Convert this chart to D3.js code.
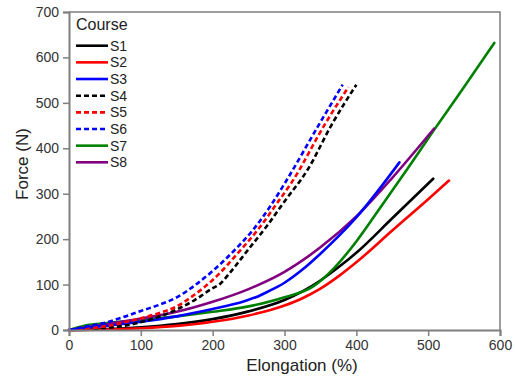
<!DOCTYPE html>
<html>
<head>
<meta charset="utf-8">
<script src="https://cdn.jsdelivr.net/npm/d3@7/dist/d3.min.js"></script>
<style>
  html, body { margin: 0; padding: 0; background: #fff; }
  svg { display: block; font-family: "Liberation Sans", Arial, sans-serif; }
</style>
</head>
<body>
<svg id="chart" width="515" height="378"></svg>
<script>
// Force–elongation curves for each course, as [elongation %, force N] pairs
const s1 = [[0,0],[50,2],[100,6],[150,13],[200,24],[250,41],[300,66],[325,85],[350,109],[375,138],[400,170],[450,246],[507,333]];
const s2 = [[0,0],[50,1],[100,4],[150,9],[200,18],[250,32],[300,54],[325,70],[350,91],[375,118],[400,149],[450,219],[500,288],[529,329]];
const s3 = [[0,0],[25,5],[50,9],[100,18],[150,30],[200,46],[230,57],[245,64],[260,72],[280,87],[290,95],[300,104],[325,133],[350,168],[375,206],[400,248],[460,369]];
const s4 = [[0,0],[50,4],[100,17],[125,29],[150,45],[175,66],[200,92],[210,101],[224,126],[250,178],[275,228],[300,283],[333,355],[365,450],[400,540]];
const s5 = [[0,0],[50,8],[100,26],[125,37],[150,52],[175,78],[200,110],[240,178],[265,225],[290,280],[310,325],[357,455],[389,535]];
const s6 = [[0,0],[25,8],[50,16],[75,28],[100,42],[125,55],[150,72],[175,98],[200,130],[230,175],[256,220],[280,272],[300,322],[349,455],[381,540]];
const s7 = [[0,0],[20,9],[50,15],[100,22],[150,30],[200,40],[250,52],[300,72],[340,96],[370,138],[400,195],[424,248],[470,352],[508,440],[550,535],[592,632]];
const s8 = [[0,0],[50,12],[100,25],[150,40],[200,62],[250,90],[300,128],[350,182],[400,250],[450,335],[508,443]];

const seriesNames  = ["S1", "S2", "S3", "S4", "S5", "S6", "S7", "S8"];
const seriesData   = [s1, s2, s3, s4, s5, s6, s7, s8];
const seriesColors = ["#000000", "#ff0000", "#0000ff", "#000000", "#ff0000", "#0000ff", "#008000", "#800080"];
const seriesDashed = [false, false, false, true, true, true, false, false];

const xTicks = [0, 100, 200, 300, 400, 500, 600];
const yTicks = [0, 100, 200, 300, 400, 500, 600, 700];
const legendTitle = "Course";
const xTitle = "Elongation (%)";
const yTitle = "Force (N)";

const svg = d3.select("#chart");
const m = { left: 69, top: 12, right: 15, bottom: 48 };
const W = 515, H = 378;

const x = d3.scaleLinear().domain([0, 600]).range([m.left, W - m.right]);
const y = d3.scaleLinear().domain([0, 700]).range([H - m.bottom, m.top]);

const axisColor = "#7f7f7f";
const textColor = "#333";

// top and right frame
svg.append("path")
  .attr("d", `M${x(0)},${y(700)}H${x(600)}V${y(0)}`)
  .attr("fill", "none").attr("stroke", axisColor).attr("stroke-width", 1.5);

// curves
const line = d3.line().x(d => x(d[0])).y(d => y(d[1])).curve(d3.curveMonotoneX);
const order = [0, 1, 6, 7, 2, 3, 4, 5];
order.forEach(i => {
  svg.append("path")
    .datum(seriesData[i])
    .attr("d", line)
    .attr("fill", "none")
    .attr("stroke", seriesColors[i])
    .attr("stroke-width", 2.6)
    .attr("stroke-linecap", seriesDashed[i] ? "butt" : "round")
    .attr("stroke-dasharray", seriesDashed[i] ? "5,3" : null);
});

// axes
const xAxis = svg.append("g")
  .attr("transform", `translate(0,${y(0)})`)
  .call(d3.axisBottom(x).tickValues(xTicks).tickSize(6).tickPadding(4).tickFormat(d3.format("d")));
const yAxis = svg.append("g")
  .attr("transform", `translate(${x(0)},0)`)
  .call(d3.axisLeft(y).tickValues(yTicks).tickSize(6).tickPadding(4).tickFormat(d3.format("d")));
[xAxis, yAxis].forEach(g => {
  g.select(".domain").attr("stroke", axisColor).attr("stroke-width", 2);
  g.selectAll(".tick line").attr("stroke", axisColor).attr("stroke-width", 1.5);
  g.selectAll(".tick text").attr("fill", textColor)
    .style("font-size", "14px").style("font-family", "'Liberation Sans', Arial, sans-serif");
});

// axis titles
svg.append("text")
  .attr("x", 302).attr("y", 371)
  .attr("text-anchor", "middle").attr("fill", "#222")
  .style("font-size", "17px").text(xTitle);
svg.append("text")
  .attr("transform", `translate(28,164) rotate(-90)`)
  .attr("text-anchor", "middle").attr("fill", "#222")
  .style("font-size", "17px").text(yTitle);

// legend
const lg = svg.append("g").attr("transform", "translate(76,0)");
lg.append("text").attr("x", 0).attr("y", 30).attr("fill", "#222")
  .style("font-size", "16px").text(legendTitle);
seriesNames.forEach((name, i) => {
  const cy = 45.7 + i * 16.66;
  lg.append("line")
    .attr("x1", 0).attr("x2", 32).attr("y1", cy).attr("y2", cy)
    .attr("stroke", seriesColors[i]).attr("stroke-width", 2.6)
    .attr("stroke-dasharray", seriesDashed[i] ? "5,3" : null);
  lg.append("text").attr("x", 34).attr("y", cy).attr("dy", "0.36em")
    .attr("fill", "#222").style("font-size", "14px").text(name);
});
</script>
</body>
</html>
